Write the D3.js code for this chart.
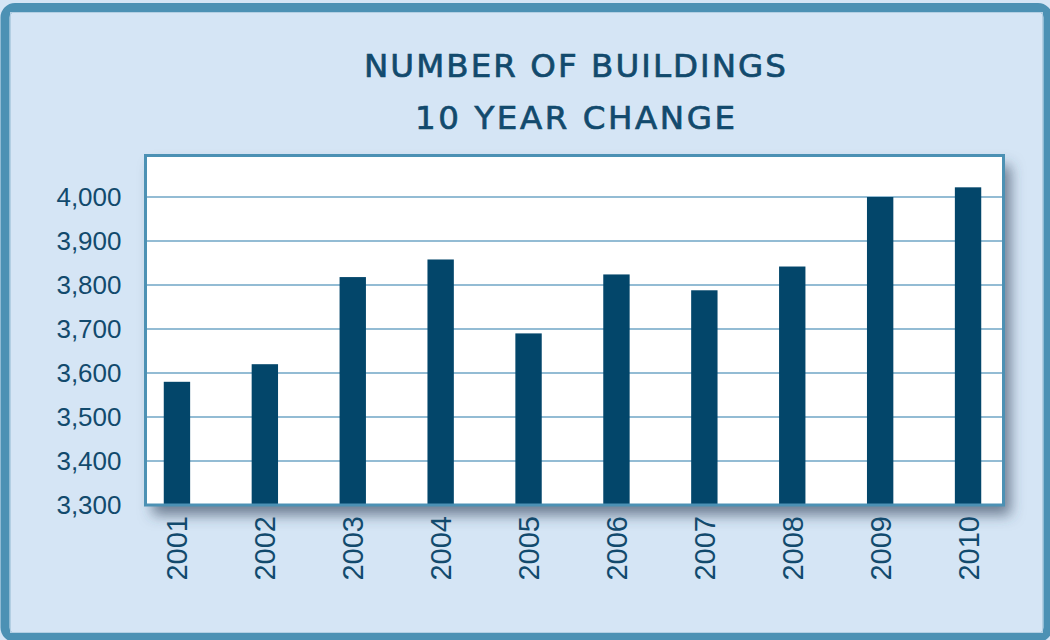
<!DOCTYPE html>
<html>
<head>
<meta charset="utf-8">
<script src="https://cdn.jsdelivr.net/npm/d3@7"></script>
<style>
  html, body { margin: 0; padding: 0; background: #d5e5f5; }
  svg { display: block; }
</style>
</head>
<body>
<div id="canvas"></div>
<script>
// data
const years = ["2001","2002","2003","2004","2005","2006","2007","2008","2009","2010"];
const buildings = [3580, 3620, 3818, 3858, 3690, 3824, 3788, 3842, 4000, 4022];
const yTicks = [3300, 3400, 3500, 3600, 3700, 3800, 3900, 4000];
const titleLines = ["NUMBER OF BUILDINGS", "10 YEAR CHANGE"];

const w = 1050;
const h = 640;
const textColor = "#124a6d";
const barColor = "#03466a";
const borderColor = "#4c91b4";

const plot = {left: 145.5, right: 1003.5, top: 155.5, bottom: 505};

let svg = d3.select("#canvas").append("svg").attr("width", w).attr("height", h);

// shadow for the plot box
const defs = svg.append("defs");
const shadow = defs.append("filter").attr("id", "shadow")
    .attr("x", "-5%").attr("y", "-5%").attr("width", "115%").attr("height", "130%");
shadow.append("feDropShadow").attr("dx", 7).attr("dy", 10).attr("stdDeviation", 7)
    .attr("flood-color", "#34465c").attr("flood-opacity", 0.65);

// outer frame
svg.append("rect").attr("x", 5).attr("y", 7.5).attr("width", 1043).attr("height", 630)
    .attr("rx", 10).attr("fill", "#d5e5f5")
    .attr("stroke", borderColor).attr("stroke-width", 9);
svg.append("rect").attr("x", 10.5).attr("y", 12.5).attr("width", 1032).attr("height", 620)
    .attr("fill", "none").attr("stroke", "#b3cfe3").attr("stroke-width", 1);

// title
svg.append("text").attr("id", "title")
    .attr("x", 575).attr("text-anchor", "middle")
    .attr("font-family", "'DejaVu Sans', sans-serif").attr("font-size", 32.5)
    .attr("fill", textColor).attr("stroke", textColor).attr("stroke-width", 0.7)
    .selectAll("tspan").data(titleLines).enter().append("tspan")
    .attr("x", 575)
    .attr("y", (d, i) => 77 + i * 52)
    .attr("textLength", (d, i) => i == 0 ? 422 : 320)
    .attr("lengthAdjust", "spacing")
    .text(d => d);

const xScale = d3.scaleBand().domain(years).range([133, 1012])
    .paddingInner(0.7).paddingOuter(0.35);
const yScale = d3.scaleLinear().domain([3300, 4100]).range([plot.bottom, 153]);

// plot background with shadow
svg.append("rect")
    .attr("x", plot.left).attr("y", plot.top)
    .attr("width", plot.right - plot.left).attr("height", plot.bottom - plot.top)
    .attr("fill", "#ffffff").attr("filter", "url(#shadow)");

// gridlines
svg.append("g").attr("id", "grid")
    .selectAll("line").data(yTicks.slice(1)).enter().append("line")
    .attr("x1", plot.left).attr("x2", plot.right)
    .attr("y1", d => yScale(d)).attr("y2", d => yScale(d))
    .attr("stroke", "#6fa6c6").attr("stroke-width", 1.5);

// bars
svg.append("g").attr("id", "bars")
    .selectAll("rect").data(buildings).enter().append("rect")
    .attr("class", "bar")
    .attr("x", (d, i) => xScale(years[i]))
    .attr("width", xScale.bandwidth())
    .attr("y", d => yScale(d))
    .attr("height", d => yScale(3300) - yScale(d))
    .attr("fill", barColor);

// plot border
svg.append("rect")
    .attr("x", plot.left).attr("y", plot.top)
    .attr("width", plot.right - plot.left).attr("height", plot.bottom - plot.top)
    .attr("fill", "none").attr("stroke", borderColor).attr("stroke-width", 3);

// y axis labels
const yAxis = d3.axisLeft(yScale).tickValues(yTicks).tickSize(0).tickPadding(24)
    .tickFormat(d3.format(","));
const yG = svg.append("g").attr("id", "y-axis")
    .attr("transform", "translate(" + plot.left + ",0)")
    .call(yAxis);
yG.select(".domain").remove();
yG.selectAll("text").attr("font-family", "'Liberation Sans', Arial, sans-serif")
    .attr("font-size", 26).attr("fill", textColor);

// x axis labels
const xAxis = d3.axisBottom(xScale).tickSize(0);
const xG = svg.append("g").attr("id", "x-axis")
    .attr("transform", "translate(0," + plot.bottom + ")")
    .call(xAxis);
xG.select(".domain").remove();
xG.selectAll("text")
    .attr("font-family", "'Liberation Sans', Arial, sans-serif")
    .attr("font-size", 29).attr("fill", textColor)
    .attr("text-anchor", "end")
    .attr("transform", "translate(0,11) rotate(-90)")
    .attr("x", 0).attr("y", 0).attr("dy", "0.36em");
</script>
</body>
</html>
